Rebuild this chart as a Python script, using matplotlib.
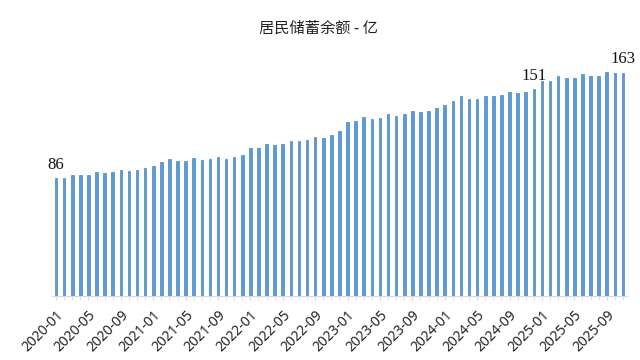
import matplotlib.pyplot as plt
import numpy as np
from matplotlib.ticker import FixedLocator

# monthly savings balance, 2020-01 .. 2025-11
months = [f"{y}-{m:02d}" for y in range(2020, 2026) for m in range(1, 13)][:71]
values = [
    86.0, 86.0, 88.6, 88.2, 88.6, 90.4, 89.6, 90.4, 92.1, 91.3, 92.1, 93.3,
    95.0, 98.1, 99.9, 98.4, 98.4, 100.6, 99.3, 99.9, 101.7, 100.3, 101.3, 103.2,
    108.3, 107.9, 111.0, 110.3, 111.0, 113.2, 113.0, 113.9, 116.1, 115.6, 117.8, 120.7,
    126.8, 127.6, 130.5, 129.2, 129.7, 132.7, 131.6, 132.7, 134.8, 134.3, 135.3, 137.2,
    139.4, 142.6, 145.8, 143.8, 143.8, 146.0, 146.0, 146.5, 148.7, 148.0, 148.7, 151.0,
    157.0, 156.6, 160.4, 158.9, 159.3, 161.8, 160.6, 160.8, 163.5, 162.5, 163.0,
]
label_idx = [0, 59, 70]
label_txt = ["86", "151", "163"]
title = "居民储蓄余额 - 亿"

plt.rcParams['font.family'] = ['Noto Sans CJK SC', 'DejaVu Sans']

fig = plt.figure(figsize=(6.4, 3.6), dpi=100)
ax = fig.add_axes([0.0812, 0.177, 0.8985, 0.686])

x = np.arange(len(values))
ax.bar(x, values, width=0.32, color='#5b9bd5', edgecolor='#4a86c0', linewidth=0.5)

ax.set_xlim(-0.5, len(values) - 0.5)
ax.set_ylim(0, 180)

for i, t in zip(label_idx, label_txt):
    ax.annotate(t, (x[i], values[i]), xytext=(0, 4), textcoords='offset points',
                ha='center', va='bottom', fontsize=12, family='Liberation Serif',
                color='#111111')

ax.xaxis.set_major_locator(FixedLocator(x[::4]))
ax.set_xticklabels(months[::4], rotation=45, ha='right', rotation_mode='anchor',
                   fontsize=10, color='#222222', family='Noto Sans')
ax.xaxis.set_minor_locator(FixedLocator(x))
ax.tick_params(axis='x', which='both', length=3, color='#d9d9d9', pad=5)
ax.set_yticks([])

for s in ['top', 'right', 'left']:
    ax.spines[s].set_visible(False)
ax.spines['bottom'].set_color('#d9d9d9')

fig.text(0.497, 0.922, title, ha='center', va='center', fontsize=11, color='#222222')

fig.savefig('out.png', dpi=100)
